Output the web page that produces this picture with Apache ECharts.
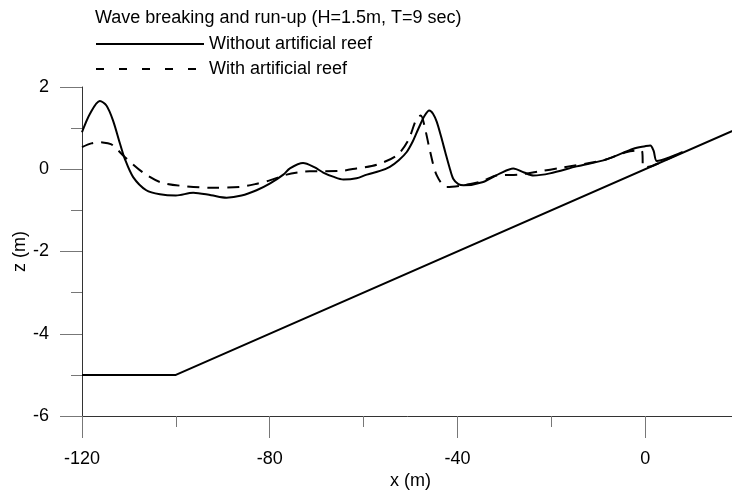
<!DOCTYPE html>
<html>
<head>
<meta charset="utf-8">
<script src="https://cdn.jsdelivr.net/npm/echarts@6/dist/echarts.min.js"></script>
<style>
html,body{margin:0;padding:0;background:#fff;}
#chart{width:732px;height:493px;}
</style>
</head>
<body>
<div id="chart"></div>
<script>
// ---- data ----
var titleText = 'Wave breaking and run-up (H=1.5m, T=9 sec)';
var seriesNames = ['Without artificial reef', 'With artificial reef'];
var xTickLabels = ['-120', '-80', '-40', '0'];
var yTickLabels = ['-6', '-4', '-2', '0', '2'];

var withoutX = [-120, -118.3, -116.2, -114.8, -113.4, -111.9, -110.9, -109.1, -106.3, -103.4, -100, -96.3, -92.5, -89.2, -86, -82.8, -80, -77.1, -75.7, -72.9, -70.5, -68.6, -66.5, -64.3, -61.5, -59.3, -56.5, -54.4, -52.5, -50.8, -49.5, -48.3, -47, -46, -45.2, -44.4, -43.5, -42.6, -41.7, -40.9, -39.8, -38.7, -34.5, -30.9, -28.1, -25.8, -23.8, -20.3, -14.6, -8.2, -2.5, 0, 1.1, 1.8, 2.5, 5, 8];
var withoutY = [0.90, 1.35, 1.66, 1.55, 1.19, 0.62, 0.26, -0.19, -0.51, -0.61, -0.64, -0.57, -0.63, -0.69, -0.64, -0.51, -0.35, -0.13, 0.02, 0.15, 0.05, -0.08, -0.18, -0.25, -0.22, -0.13, -0.04, 0.06, 0.22, 0.42, 0.68, 0.99, 1.30, 1.43, 1.35, 1.15, 0.80, 0.42, 0.05, -0.23, -0.36, -0.39, -0.31, -0.10, 0.02, -0.08, -0.15, -0.10, 0.07, 0.24, 0.50, 0.56, 0.58, 0.45, 0.20, 0.28, 0.42];

var withX = [-120, -118, -116.2, -114.5, -113.4, -110.9, -107, -103.4, -99.1, -92, -86.4, -83, -80, -76.4, -73, -71.4, -65, -61.5, -57.2, -52.9, -50.5, -48.7, -47.8, -46.9, -45.8, -44.4, -42.3, -38.7, -35, -31.6, -27, -22.4, -18.1, -8.9, -3.9, -0.8, -0.3, 1.5, 8];
var withY = [0.54, 0.63, 0.66, 0.63, 0.58, 0.30, -0.08, -0.31, -0.40, -0.45, -0.43, -0.36, -0.27, -0.13, -0.06, -0.05, -0.04, 0.02, 0.11, 0.34, 0.70, 1.23, 1.31, 0.99, 0.42, -0.15, -0.43, -0.39, -0.30, -0.15, -0.13, -0.05, 0.03, 0.22, 0.42, 0.46, 0.05, 0.08, 0.42];

var bedX = [-120, -100, 20];
var bedY = [-5, -5, 1];

function pairs(xs, ys) { return xs.map(function (x, i) { return [x, ys[i]]; }); }

var font = "'Liberation Sans', Arial, sans-serif";
var chart = echarts.init(document.getElementById('chart'), null, { renderer: 'canvas' });
chart.setOption({
  animation: false,
  backgroundColor: '#fff',
  title: {
    text: titleText, left: 95, top: 9, padding: 0,
    textStyle: { fontFamily: font, fontSize: 18, fontWeight: 'normal', color: '#000' }
  },
  legend: {
    orient: 'vertical', left: 95, top: 35, padding: 0,
    itemWidth: 108, itemHeight: 18, itemGap: 7,
    textStyle: { fontFamily: font, fontSize: 18, color: '#000' },
    itemStyle: { color: 'rgba(0,0,0,0)', borderWidth: 0, opacity: 0 },
    data: [
      { name: seriesNames[0] },
      { name: seriesNames[1], lineStyle: { type: [8, 15] } }
    ]
  },
  grid: { left: 82, top: 87, width: 657, height: 329, containLabel: false, outerBoundsMode: 'none' },
  xAxis: [{
    type: 'value', min: -120, max: 20, interval: 40,
    name: 'x (m)', nameLocation: 'middle', nameGap: 56, nameMoveOverlap: false,
    nameTextStyle: { fontFamily: font, fontSize: 18, color: '#000' },
    axisLine: { show: true, onZero: false, lineStyle: { color: '#333', width: 1 } },
    axisTick: { show: true, length: 22, lineStyle: { color: '#777', width: 1 } },
    splitLine: { show: false },
    axisLabel: {
      margin: 34, fontFamily: font, fontSize: 18, color: '#000',
      formatter: function (v) { var s = String(v); return xTickLabels.indexOf(s) >= 0 ? s : ''; }
    }
  }, {
    type: 'value', min: -120, max: 20, interval: 20, position: 'bottom',
    axisLine: { show: false, onZero: false },
    axisTick: { show: true, length: 11, lineStyle: { color: '#777', width: 1 } },
    splitLine: { show: false },
    axisLabel: { show: false }
  }],
  yAxis: {
    type: 'value', min: -6, max: 2, interval: 2,
    name: 'z (m)', nameLocation: 'middle', nameGap: 53, nameMoveOverlap: false,
    nameTextStyle: { fontFamily: font, fontSize: 18, color: '#000' },
    axisLine: { show: true, onZero: false, lineStyle: { color: '#333', width: 1 } },
    axisTick: { show: true, length: 22, lineStyle: { color: '#777', width: 1 } },
    minorTick: { show: true, splitNumber: 2, length: 11, lineStyle: { color: '#777', width: 1 } },
    splitLine: { show: false },
    axisLabel: {
      margin: 33, fontFamily: font, fontSize: 18, color: '#000',
      formatter: function (v) { var s = String(v); return yTickLabels.indexOf(s) >= 0 ? s : ''; }
    }
  },
  series: [
    {
      name: seriesNames[0], type: 'line', xAxisIndex: 0, data: pairs(withoutX, withoutY),
      showSymbol: false, symbol: 'none', smooth: 0.3, clip: false,
      lineStyle: { color: '#000', width: 2, type: 'solid' }, itemStyle: { color: '#000' }
    },
    {
      name: seriesNames[1], type: 'line', xAxisIndex: 0, data: pairs(withX, withY),
      showSymbol: false, symbol: 'none', smooth: 0.3, clip: false,
      lineStyle: { color: '#000', width: 2, type: [12, 8] }, itemStyle: { color: '#000' }
    },
    {
      name: 'Bathymetry', type: 'line', xAxisIndex: 0, data: pairs(bedX, bedY),
      showSymbol: false, symbol: 'none', clip: false,
      lineStyle: { color: '#000', width: 2 }, itemStyle: { color: '#000' }
    }
  ]
});
</script>
</body>
</html>
